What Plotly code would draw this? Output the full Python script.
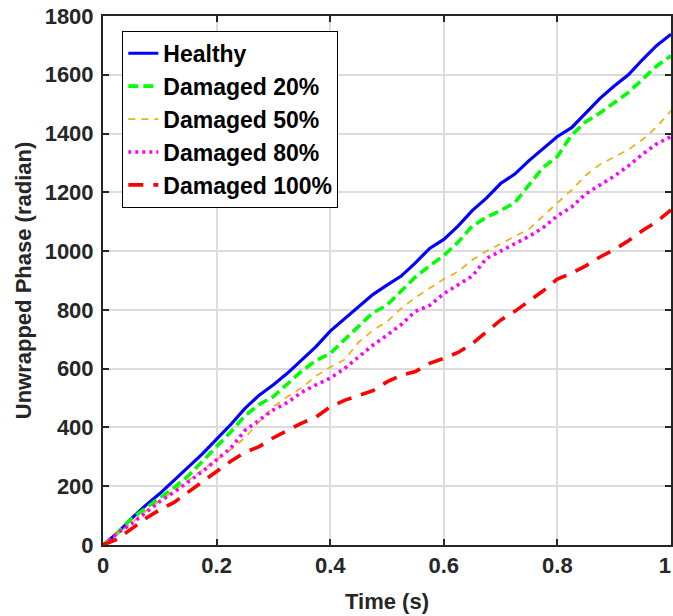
import plotly.graph_objects as go

t = [round(i * 0.025, 3) for i in range(41)]

healthy = [0, 40, 90, 135, 175, 220, 265, 310, 360, 410, 465, 510, 545, 585, 630, 675,
           728, 770, 812, 852, 884, 915, 960, 1009, 1040, 1085, 1138, 1180, 1230, 1262,
           1308, 1348, 1390, 1420, 1470, 1520, 1562, 1600, 1652, 1700, 1738]
damaged20 = [0, 40, 90, 125, 160, 195, 235, 285, 335, 385, 440, 478, 505, 550, 592, 628,
             652, 698, 745, 790, 816, 862, 912, 950, 985, 1030, 1085, 1115, 1138, 1165,
             1225, 1285, 1322, 1395, 1440, 1470, 1505, 1540, 1585, 1630, 1665]
damaged50 = [0, 35, 75, 115, 150, 185, 220, 255, 290, 325, 365, 420, 470, 505, 535, 575,
             605, 630, 690, 730, 760, 805, 842, 875, 905, 930, 970, 1000, 1025, 1050,
             1075, 1120, 1165, 1208, 1258, 1295, 1320, 1345, 1380, 1423, 1478]
damaged80 = [0, 40, 72, 110, 148, 180, 215, 250, 290, 330, 390, 425, 460, 485, 520, 545,
             568, 600, 640, 680, 714, 750, 795, 815, 855, 885, 915, 975, 1000, 1022,
             1050, 1080, 1120, 1150, 1195, 1225, 1255, 1290, 1330, 1365, 1390]
damaged100 = [0, 20, 55, 90, 120, 145, 180, 215, 250, 285, 315, 335, 365, 390, 415, 435,
              470, 492, 508, 525, 555, 578, 590, 618, 635, 655, 685, 725, 765, 795,
              830, 865, 905, 925, 950, 980, 1005, 1035, 1070, 1100, 1140]

names = ["Healthy", "Damaged 20%", "Damaged 50%", "Damaged 80%", "Damaged 100%"]
series = [healthy, damaged20, damaged50, damaged80, damaged100]
colors = ["#0000FF", "#00FF00", "#EDB120", "#FF00FF", "#FF0000"]
widths = [3.2, 3.6, 1.8, 3.6, 3.6]
dashes = ["solid", "10px,5px", "7px,6px", "3px,4px", "15px,10px"]

x_ticks = [0, 0.2, 0.4, 0.6, 0.8, 1]
x_tick_labels = ["0", "0.2", "0.4", "0.6", "0.8", "1"]
y_ticks = [0, 200, 400, 600, 800, 1000, 1200, 1400, 1600, 1800]

fig = go.Figure()
for n, s, c, w, d in zip(names, series, colors, widths, dashes):
    fig.add_trace(go.Scatter(x=t, y=s, mode="lines", name=f"<b>{n}</b>",
                             line=dict(color=c, width=w, dash=d)))

font_family = "Liberation Sans, Arial, sans-serif"
axis_common = dict(
    showline=True, linecolor="#262626", linewidth=2, mirror="allticks",
    ticks="inside", ticklen=6, tickwidth=2, tickcolor="#262626",
    showgrid=True, gridcolor="#DCDCDC", gridwidth=1.5, zeroline=False,
    tickfont=dict(family=font_family, size=22, color="#262626"),
    automargin=False, ticklabeloverflow="allow",
)

# the last x label is padded so it stays inside the window
x_text = [f"<b>{s}</b>" for s in x_tick_labels]
x_text[-1] = f"<b>{x_tick_labels[-1]}</b>\u00a0\u00a0"

fig.update_layout(
    width=673, height=616,
    margin=dict(l=103, r=2, t=16, b=71),
    paper_bgcolor="white", plot_bgcolor="white",
    font=dict(family=font_family, color="#262626"),
    xaxis=dict(range=[0, 1], tickvals=x_ticks, ticktext=x_text,
               title=dict(text="<b>Time (s)</b>", font=dict(size=22, family=font_family, color="#262626"),
                          standoff=16),
               **axis_common),
    yaxis=dict(range=[0, 1800], tickvals=y_ticks, ticktext=[f"<b>{v}</b>" for v in y_ticks],
               title=dict(text="<b>Unwrapped Phase (radian)</b>",
                          font=dict(size=22, family=font_family, color="#262626"), standoff=7),
               ticklabelstandoff=3,
               **axis_common),
    legend=dict(x=0.034, y=0.972, xanchor="left", yanchor="top",
                bgcolor="white", bordercolor="#000000", borderwidth=1,
                font=dict(family=font_family, size=23, color="#000000"),
                itemwidth=30),
    showlegend=True,
)

# remove the default 8px page margin so the figure fills the window exactly
fig.write_html("out.html", config={"displayModeBar": False},
               post_script="document.body.style.margin='0';document.body.style.overflow='hidden';")
